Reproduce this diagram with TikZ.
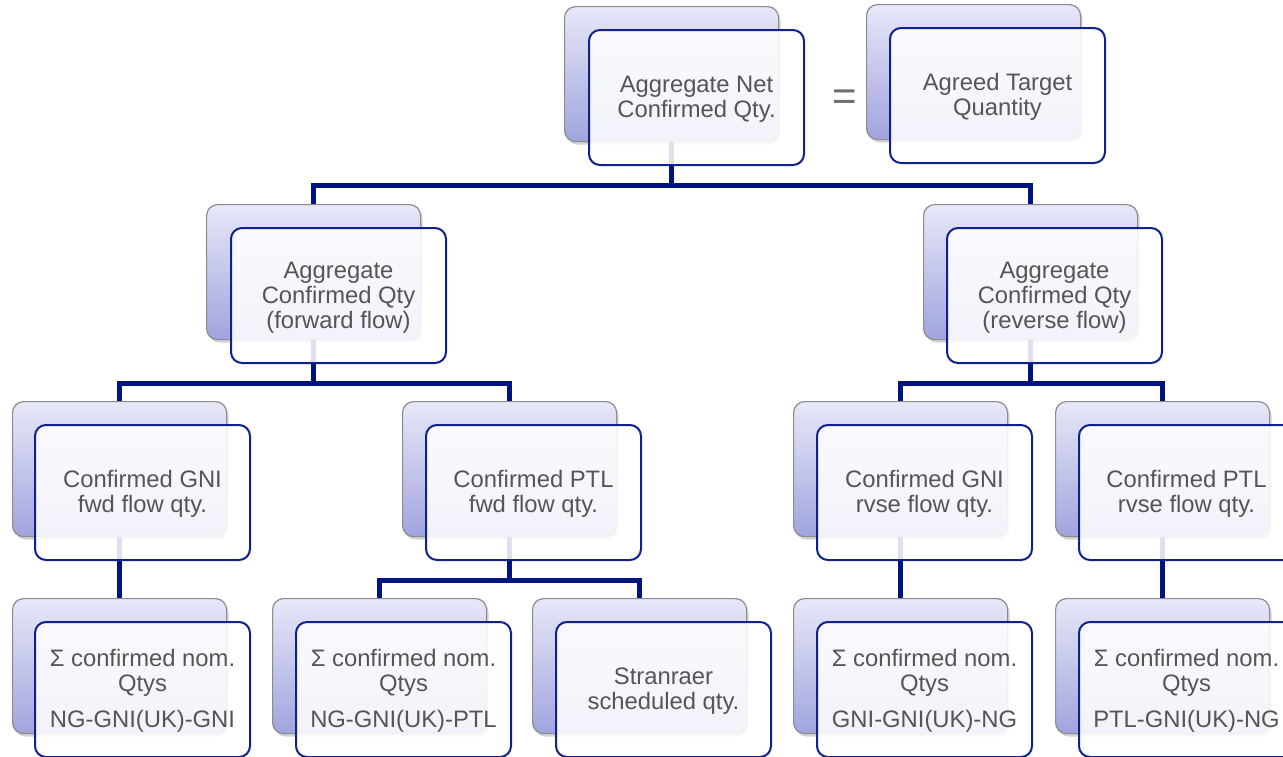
\documentclass[tikz,border=0pt]{standalone}
\usepackage{fontspec}
\setmainfont{Liberation Sans}
\usetikzlibrary{shadows}
\definecolor{navy}{RGB}{0,20,128}
\definecolor{fborder}{RGB}{16,32,140}
\definecolor{btop}{RGB}{231,232,248}
\definecolor{bbot}{RGB}{160,164,222}
\definecolor{bborder}{RGB}{140,140,140}
\definecolor{txt}{RGB}{85,85,85}
\definecolor{eqc}{RGB}{110,110,110}
\newcommand\tstr{\rule{0pt}{20.5pt}}
\tikzset{
  back/.style={draw=bborder, line width=1.2pt, rounded corners=11pt,
    top color=btop, bottom color=bbot, minimum width=214pt, minimum height=135pt,
    anchor=north west, inner sep=0pt,
    drop shadow={opacity=0.35, shadow xshift=2pt, shadow yshift=-3pt}},
  front/.style={draw=fborder, line width=2pt, rounded corners=11pt,
    fill=white, fill opacity=0.87, text opacity=1,
    minimum width=215pt, minimum height=135pt, anchor=north west, inner sep=0pt,
    align=center, text=txt, font=\fontsize{23.8}{25}\selectfont},
  conn/.style={draw=navy, line width=5pt, line join=miter}
}
\begin{document}
\begin{tikzpicture}[x=1pt,y=-1pt]
\useasboundingbox (0,0) rectangle (1283,756);
\fill[white] (0,0) rectangle (1283,756);
% back boxes
\node[back] (Ab) at (564,6) {};
\node[back] (Tb) at (866,4) {};
\node[back] (Lb) at (206,204) {};
\node[back] (Rb) at (923,204) {};
\node[back] (Pb) at (12,401) {};
\node[back] (Qb) at (402,401) {};
\node[back] (Ub) at (793,401) {};
\node[back] (Vb) at (1055,401) {};
\node[back] (Wb) at (12,598) {};
\node[back] (Xb) at (272,598) {};
\node[back] (Yb) at (532,598) {};
\node[back] (Zb) at (793,598) {};
\node[back] (Kb) at (1055,598) {};
% connectors
\draw[conn] (Ab.south) -- ++(0,43) -| (Lb.north);
\draw[conn] (Ab.south) ++(0,43) -| (Rb.north);
\draw[conn] (Lb.south) -- ++(0,43) -| (Pb.north);
\draw[conn] (Lb.south) ++(0,43) -| (Qb.north);
\draw[conn] (Rb.south) -- ++(0,43) -| (Ub.north);
\draw[conn] (Rb.south) ++(0,43) -| (Vb.north);
\draw[conn] (Pb.south) -- (Wb.north);
\draw[conn] (Qb.south) -- ++(0,43) -| (Xb.north);
\draw[conn] (Qb.south) ++(0,43) -| (Yb.north);
\draw[conn] (Ub.south) -- (Zb.north);
\draw[conn] (Vb.south) -- (Kb.north);
% front boxes
\node[front] (Af) at (588,29) {\tstr Aggregate Net\\Confirmed Qty.};
\node[front] (Tf) at (889,27) {\tstr Agreed Target\\Quantity};
\node[front] (Lf) at (230,227) {\tstr Aggregate\\Confirmed Qty\\(forward flow)};
\node[front] (Rf) at (946,227) {\tstr Aggregate\\Confirmed Qty\\(reverse flow)};
\node[front] (Pf) at (34,424) {\tstr Confirmed GNI\\fwd flow qty.};
\node[front] (Qf) at (425,424) {\tstr Confirmed PTL\\fwd flow qty.};
\node[front] (Uf) at (816,424) {\tstr Confirmed GNI\\rvse flow qty.};
\node[front] (Vf) at (1078,424) {\tstr Confirmed PTL\\rvse flow qty.};
\node[front] (Wf) at (34,621) {\tstr Σ confirmed nom.\\Qtys\\[11pt]NG-GNI(UK)-GNI};
\node[front] (Xf) at (295,621) {\tstr Σ confirmed nom.\\Qtys\\[11pt]NG-GNI(UK)-PTL};
\node[front] (Yf) at (555,621) {\tstr Stranraer\\scheduled qty.};
\node[front] (Zf) at (816,621) {\tstr Σ confirmed nom.\\Qtys\\[11pt]GNI-GNI(UK)-NG};
\node[front] (Kf) at (1078,621) {\tstr Σ confirmed nom.\\Qtys\\[11pt]PTL-GNI(UK)-NG};
% equals sign
\node[text=eqc, font=\fontsize{42}{42}\selectfont, inner sep=0pt] (eq) at (845,100) {=};
\end{tikzpicture}
\end{document}
